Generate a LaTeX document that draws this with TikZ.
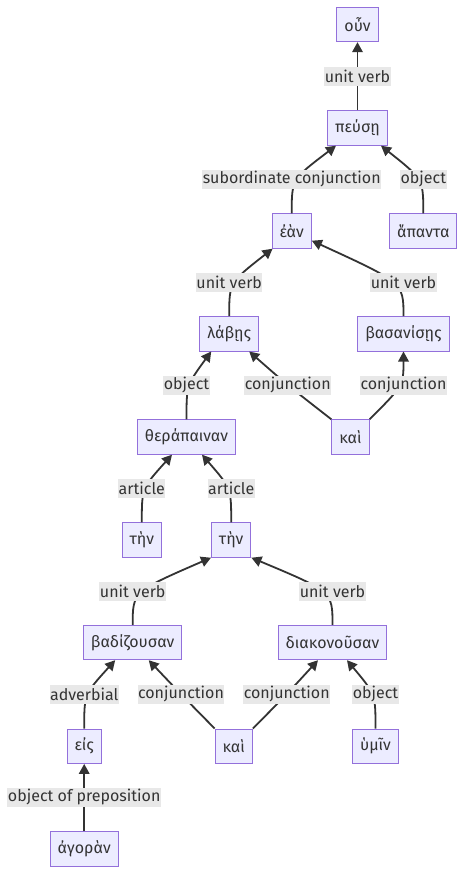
\documentclass[tikz,border=0pt]{standalone}
\usepackage{fontspec}
\setmainfont{Fira Sans}
\usetikzlibrary{arrows.meta}
\definecolor{nodefill}{HTML}{ECECFF}
\definecolor{nodedraw}{HTML}{9370DB}
\definecolor{edgecol}{HTML}{333333}
\definecolor{lblbg}{HTML}{E8E8E8}
\begin{document}
\begin{tikzpicture}[x=1pt,y=-1pt,
  wbox/.style={draw=nodedraw,fill=nodefill,line width=1pt,text=edgecol,
    minimum height=34.4pt,inner xsep=7.5pt,inner ysep=0pt,font=\fontsize{16}{18}\selectfont},
  elabel/.style={fill=lblbg,text=edgecol,inner xsep=0.5pt,inner ysep=0pt,
    minimum height=19.5pt,font=\fontsize{16}{18}\selectfont},
  edge/.style={draw=edgecol,line width=1.8pt,-{Triangle[length=10pt,width=10.5pt]}}]
\useasboundingbox (0,0) rectangle (465,874);
\fill[white] (0,0) rectangle (465,874);
% nodes
\node[wbox] (oun) at (357.5,24.5) {οὖν};
\node[wbox] (peuse) at (357.5,128) {πεύσῃ};
\node[wbox] (ean) at (291.7,231) {ἐὰν};
\node[wbox] (hapanta) at (423.3,231) {ἅπαντα};
\node[wbox] (labes) at (229.2,333.8) {λάβῃς};
\node[wbox] (basan) at (403.5,333.8) {βασανίσῃς};
\node[wbox] (therap) at (186.5,437) {θεράπαιναν};
\node[wbox] (kaiA) at (350.5,437) {καὶ};
\node[wbox] (tenA) at (141.8,540) {τὴν};
\node[wbox] (tenB) at (231.2,540) {τὴν};
\node[wbox] (badiz) at (132.7,642.5) {βαδίζουσαν};
\node[wbox] (diakon) at (332.5,642.5) {διακονοῦσαν};
\node[wbox] (eis) at (84.2,746.2) {εἰς};
\node[wbox] (kaiB) at (233.8,746.2) {καὶ};
\node[wbox] (hymin) at (375.5,746.2) {ὑμῖν};
\node[wbox] (agoran) at (84.2,849) {ἀγορὰν};
% label anchor coordinates
\coordinate (l1) at (357.5,76.7);
\coordinate (l2) at (291.7,179.3);
\coordinate (l3) at (423.3,179.3);
\coordinate (l4) at (229.2,282.7);
\coordinate (l5) at (403.5,282.7);
\coordinate (l6) at (186.5,385.3);
\coordinate (l7) at (287.7,385.3);
\coordinate (l8) at (403.5,385.3);
\coordinate (l9) at (141.8,488.3);
\coordinate (l10) at (231.2,488.3);
\coordinate (l11) at (132.7,591.7);
\coordinate (l12) at (332.5,591.7);
\coordinate (l13) at (84.2,694.3);
\coordinate (l14) at (181,694.3);
\coordinate (l15) at (286.7,694.3);
\coordinate (l16) at (375.5,694.3);
\coordinate (l17) at (84.2,797.3);
% edges
\draw[edge] (peuse.north) -- (oun.south);
\draw[edge] (ean.north) .. controls (l2) .. ([xshift=-21.5pt]peuse.south);
\draw[edge] (hapanta.north) .. controls (l3) .. ([xshift=23.5pt]peuse.south);
\draw[edge] (labes.north) .. controls (l4) .. ([xshift=1pt]ean.south west);
\draw[edge] (basan.north) .. controls (l5) .. ([yshift=8pt]ean.south east);
\draw[edge] (therap.north) .. controls (l6) .. ([xshift=-18pt]labes.south);
\draw[edge] (kaiA.north west) .. controls (l7) .. ([xshift=20pt]labes.south);
\draw[edge] (kaiA.north east) .. controls (l8) .. (basan.south);
\draw[edge] (tenA.north) .. controls (l9) .. ([xshift=-14.5pt]therap.south);
\draw[edge] (tenB.north) .. controls (l10) .. ([xshift=15.5pt]therap.south);
\draw[edge] (badiz.north) .. controls (l11) .. (tenB.south west);
\draw[edge] (diakon.north) .. controls (l12) .. (tenB.south east);
\draw[edge] (eis.north) .. controls (l13) .. ([xshift=-17.5pt]badiz.south);
\draw[edge] (kaiB.north west) .. controls (l14) .. ([xshift=16pt]badiz.south);
\draw[edge] (kaiB.north east) .. controls (l15) .. ([xshift=-14.5pt]diakon.south);
\draw[edge] (hymin.north) .. controls (l16) .. ([xshift=14.5pt]diakon.south);
\draw[edge] (agoran.north) -- (eis.south);
% labels
\node[elabel] (t1) at (l1) {unit verb};
\node[elabel] (t2) at (l2) {subordinate conjunction};
\node[elabel] (t3) at (l3) {object};
\node[elabel] (t4) at (l4) {unit verb};
\node[elabel] (t5) at (l5) {unit verb};
\node[elabel] (t6) at (l6) {object};
\node[elabel] (t7) at (l7) {conjunction};
\node[elabel] (t8) at (l8) {conjunction};
\node[elabel] (t9) at (l9) {article};
\node[elabel] (t10) at (l10) {article};
\node[elabel] (t11) at (l11) {unit verb};
\node[elabel] (t12) at (l12) {unit verb};
\node[elabel] (t13) at (l13) {adverbial};
\node[elabel] (t14) at (l14) {conjunction};
\node[elabel] (t15) at (l15) {conjunction};
\node[elabel] (t16) at (l16) {object};
\node[elabel] (t17) at (l17) {object of preposition};
\end{tikzpicture}
\end{document}
